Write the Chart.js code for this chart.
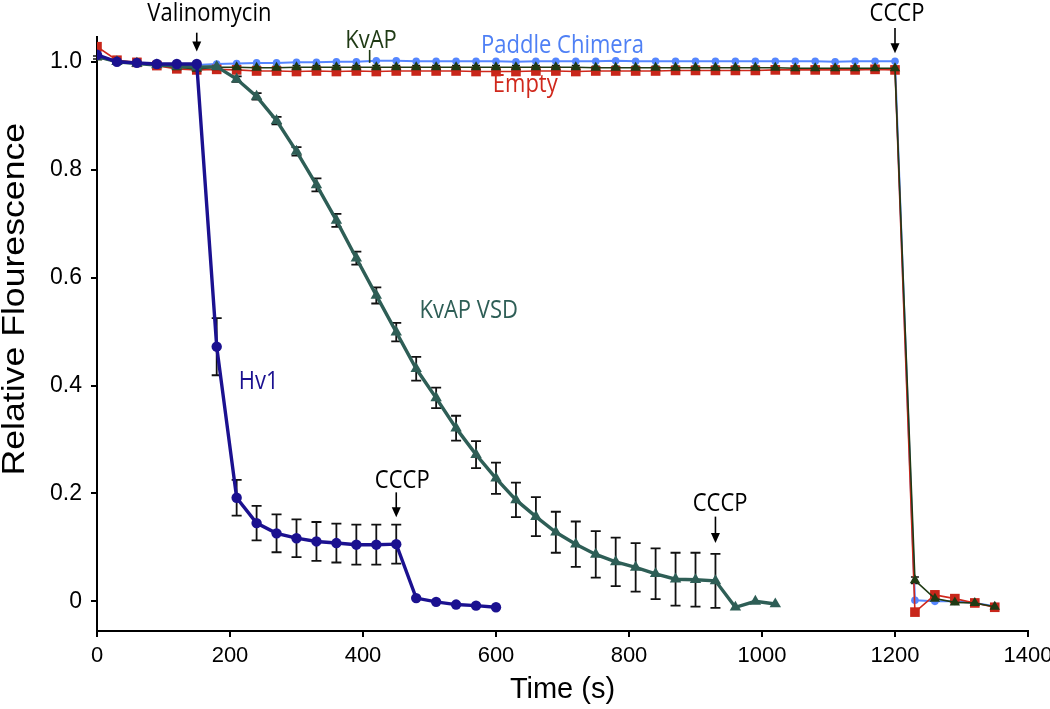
<!DOCTYPE html>
<html>
<head>
<meta charset="utf-8">
<script src="https://cdn.jsdelivr.net/npm/chart.js@4"></script>
<style>
  html, body { margin: 0; padding: 0; background: #fff; }
  canvas { display: block; }
</style>
</head>
<body>
<canvas id="c" width="1050" height="709"></canvas>
<script>
// ---------------- data ----------------
const hv1Time = [0,30,60,90,120,150,180,210,240,270,300,330,360,390,420,450,480,510,540,570,600];
const hv1Val  = [1.013,1.000,0.998,0.996,0.996,0.996,0.472,0.192,0.145,0.126,0.117,0.111,0.108,0.105,0.105,0.106,0.006,-0.001,-0.006,-0.008,-0.011];
const hv1Err  = [0,0,0,0,0,0,0.053,0.033,0.032,0.035,0.035,0.036,0.036,0.037,0.037,0.036,0,0,0,0,0];

const vsdTime = [0,30,60,90,120,150,180,210,240,270,300,330,360,390,420,450,480,510,540,570,600,630,660,690,720,750,780,810,840,870,900,930,960,990,1020];
const vsdVal  = [1.010,1.000,0.997,0.994,0.992,0.990,0.991,0.968,0.936,0.891,0.834,0.772,0.706,0.636,0.567,0.499,0.431,0.377,0.321,0.272,0.228,0.188,0.157,0.128,0.106,0.087,0.073,0.063,0.051,0.041,0.040,0.038,-0.011,0.000,-0.005];
const vsdErr  = [0,0,0,0,0,0,0,0.005,0.006,0.007,0.008,0.012,0.012,0.012,0.015,0.017,0.022,0.019,0.023,0.025,0.029,0.032,0.036,0.038,0.042,0.043,0.045,0.045,0.047,0.049,0.050,0.050,0,0,0];

const flatTime = [0,30,60,90,120,150,180,210,240,270,300,330,360,390,420,450,480,510,540,570,600,630,660,690,720,750,780,810,840,870,900,930,960,990,1020,1050,1080,1110,1140,1170,1200,1230,1260,1290,1320,1350];
const kvapVal  = [1.008,1.000,0.997,0.994,0.990,0.987,0.990,0.990,0.989,0.989,0.990,0.990,0.990,0.990,0.990,0.990,0.990,0.990,0.990,0.990,0.990,0.990,0.990,0.990,0.990,0.989,0.989,0.989,0.989,0.989,0.989,0.989,0.989,0.989,0.989,0.988,0.988,0.988,0.988,0.988,0.988,0.039,0.005,-0.002,-0.003,-0.010];
const kvapErr  = [0.003,0.003,0.003,0.003,0.003,0.003,0.003,0.003,0.003,0.003,0.003,0.003,0.003,0.003,0.003,0.003,0.003,0.003,0.003,0.003,0.003,0.003,0.003,0.003,0.003,0.003,0.003,0.003,0.003,0.003,0.003,0.003,0.003,0.003,0.003,0.003,0.003,0.003,0.003,0.003,0.003,0.006,0.003,0.003,0.003,0.003];
const emptyVal = [1.028,1.003,0.999,0.993,0.987,0.985,0.986,0.985,0.983,0.983,0.982,0.983,0.982,0.983,0.982,0.983,0.983,0.983,0.983,0.982,0.982,0.982,0.983,0.983,0.982,0.983,0.983,0.983,0.983,0.984,0.984,0.984,0.984,0.984,0.985,0.985,0.985,0.985,0.985,0.986,0.985,-0.020,0.012,0.005,-0.003,-0.011];
const paddleVal= [1.010,1.000,0.998,0.996,0.995,0.994,0.996,0.997,0.998,0.998,0.999,0.999,1.000,1.000,1.002,1.002,1.001,1.001,1.001,1.001,1.001,1.000,1.001,1.001,1.001,1.001,1.002,1.001,1.001,1.001,1.001,1.001,1.001,1.001,1.001,1.001,1.001,1.000,1.001,1.001,1.001,0.002,0.000,0.000,-0.003,-0.009];

const xTicks = [0,200,400,600,800,1000,1200,1400];
const yTicks = [0,0.2,0.4,0.6,0.8,1.0];

// text labels placed in data coordinates (time, value)
const labels = [
  {text:'Valinomycin',   t:169,  v:1.076, color:'#000000'},
  {text:'KvAP',          t:412,  v:1.025, color:'#1f3a14'},
  {text:'Paddle Chimera',t:700,  v:1.016, color:'#4f80f5'},
  {text:'Empty',         t:644,  v:0.944, color:'#d0281c'},
  {text:'KvAP VSD',      t:559,  v:0.5255,color:'#2e5e56'},
  {text:'Hv1',           t:243,  v:0.393, color:'#1b1190'},
  {text:'CCCP',          t:459,  v:0.210, color:'#000000'},
  {text:'CCCP',          t:937,  v:0.168, color:'#000000'},
  {text:'CCCP',          t:1203, v:1.075, color:'#000000'}
];
const arrows = [
  {t:150,  from:1.054, to:1.019, head:true},
  {t:450,  from:0.202, to:0.156, head:true},
  {t:930,  from:0.157, to:0.108, head:true},
  {t:1200, from:1.0625,to:1.016, head:true},
  {t:410,  from:1.022, to:0.998, head:false}
];
const yTitle = 'Relative Flourescence';
const yTitleCenter = 0.56; // value at which the rotated title is centred

function pts(xs, ys){ return xs.map((x,i)=>({x:x, y:ys[i]})); }

const errorBars = {
  id:'errorBars',
  beforeDatasetsDraw(chart){
    const ctx = chart.ctx, xs = chart.scales.x, ys = chart.scales.y;
    ctx.save();
    ctx.strokeStyle = '#111';
    chart.data.datasets.forEach(ds=>{
      if(!ds.errors) return;
      ctx.lineWidth = ds.errWidth || 1.8;
      ds.data.forEach((p,i)=>{
        const e = ds.errors[i];
        if(!e) return;
        const px = xs.getPixelForValue(p.x);
        const y1 = ys.getPixelForValue(p.y + e);
        const y2 = ys.getPixelForValue(p.y - e);
        const cw = ds.capHalf || 5;
        ctx.beginPath();
        ctx.moveTo(px, y1); ctx.lineTo(px, y2);
        ctx.moveTo(px-cw, y1); ctx.lineTo(px+cw, y1);
        ctx.moveTo(px-cw, y2); ctx.lineTo(px+cw, y2);
        ctx.stroke();
      });
    });
    ctx.restore();
  }
};

const annotations = {
  id:'annotations',
  afterDraw(chart){
    const ctx = chart.ctx, xs = chart.scales.x, ys = chart.scales.y;
    ctx.save();
    ctx.font = '22px "Open Sans", "Noto Sans", sans-serif';
    ctx.textAlign = 'center';
    ctx.textBaseline = 'alphabetic';
    labels.forEach(l=>{
      ctx.save();
      ctx.fillStyle = l.color;
      ctx.translate(xs.getPixelForValue(l.t), ys.getPixelForValue(l.v));
      ctx.scale(1, 1.12);
      ctx.fillText(l.text, 0, 0);
      ctx.restore();
    });
    arrows.forEach(a=>{
      const px = xs.getPixelForValue(a.t);
      const y1 = ys.getPixelForValue(a.from);
      const y2 = ys.getPixelForValue(a.to);
      ctx.strokeStyle = a.head ? '#000' : '#1f3a14';
      ctx.fillStyle = '#000';
      ctx.lineWidth = 1.6;
      ctx.beginPath();
      ctx.moveTo(px, y1);
      ctx.lineTo(px, a.head ? y2 - 8 : y2);
      ctx.stroke();
      if(a.head){
        ctx.beginPath();
        ctx.moveTo(px - 4.5, y2 - 10);
        ctx.lineTo(px + 4.5, y2 - 10);
        ctx.lineTo(px, y2);
        ctx.closePath();
        ctx.fill();
      }
    });
    // rotated y-axis title
    ctx.save();
    ctx.font = '31px "Liberation Sans", Arial, sans-serif';
    ctx.fillStyle = '#000';
    ctx.textAlign = 'center';
    ctx.textBaseline = 'middle';
    ctx.translate(15, ys.getPixelForValue(yTitleCenter));
    ctx.rotate(-Math.PI/2);
    ctx.scale(1.15, 1);
    ctx.fillText(yTitle, 0, 0);
    ctx.restore();
    ctx.restore();
  }
};

const tickFont = {family:'"Liberation Sans", Arial, sans-serif', size:23};
const xTickFont = {family:'"Liberation Sans", Arial, sans-serif', size:22};

new Chart(document.getElementById('c'), {
  type:'line',
  data:{
    datasets:[
      {label:'Hv1', data:pts(hv1Time,hv1Val), errors:hv1Err, capHalf:5,
       borderColor:'#1b1190', backgroundColor:'#1b1190', borderWidth:3.4,
       pointStyle:'circle', pointRadius:5.2, pointBorderWidth:0},
      {label:'KvAP VSD', data:pts(vsdTime,vsdVal), errors:vsdErr, capHalf:5,
       borderColor:'#2e5e56', backgroundColor:'#2e5e56', borderWidth:3.4,
       pointStyle:'triangle', pointRadius:6.6, pointBorderWidth:0},
      {label:'KvAP', data:pts(flatTime,kvapVal), errors:kvapErr, capHalf:4, errWidth:1.5,
       borderColor:'#1f3a14', backgroundColor:'#1f3a14', borderWidth:1.6,
       pointStyle:'triangle', pointRadius:6, pointBorderWidth:0},
      {label:'Empty', data:pts(flatTime,emptyVal),
       borderColor:'#d0281c', backgroundColor:'#c8261a', borderWidth:1.6,
       pointStyle:'rect', pointRadius:6.8, pointBorderWidth:0},
      {label:'Paddle Chimera', data:pts(flatTime,paddleVal),
       borderColor:'#5586ff', backgroundColor:'#5586ff', borderWidth:2,
       pointStyle:'circle', pointRadius:3.8, pointBorderWidth:0}
    ]
  },
  options:{
    responsive:false,
    animation:false,
    events:[],
    layout:{padding:{top:37, right:22, left:0, bottom:0}},
    elements:{line:{tension:0}},
    plugins:{legend:{display:false}, tooltip:{enabled:false}},
    scales:{
      x:{
        type:'linear', min:0, max:1400,
        afterBuildTicks(s){ s.ticks = xTicks.map(v=>({value:v})); },
        afterFit(s){ s.height = 78; s.paddingLeft = 0; s.paddingRight = 0; },
        ticks:{color:'#000', font:xTickFont, padding:6, maxRotation:0, autoSkip:false,
               callback:(v)=> String(v)},
        grid:{drawOnChartArea:false, drawTicks:true, tickLength:6, color:'#000', lineWidth:2},
        border:{display:true, color:'#000', width:2},
        title:{display:true, text:'Time (s)', color:'#000',
               font:{family:'"Liberation Sans", Arial, sans-serif', size:29, lineHeight:1},
               padding:{top:0, bottom:4.5}}
      },
      y:{
        type:'linear', min:-0.055, max:1.046,
        afterBuildTicks(s){ s.ticks = yTicks.map(v=>({value:v})); },
        afterFit(s){ s.width = 97; s.paddingTop = 0; s.paddingBottom = 0; },
        ticks:{color:'#000', font:tickFont, padding:9,
               callback:(v)=> v===0 ? '0' : Number(v).toFixed(1)},
        grid:{drawOnChartArea:false, drawTicks:true, tickLength:6, color:'#000', lineWidth:2},
        border:{display:true, color:'#000', width:2},
        title:{display:false}
      }
    }
  },
  plugins:[errorBars, annotations]
});
</script>
</body>
</html>
